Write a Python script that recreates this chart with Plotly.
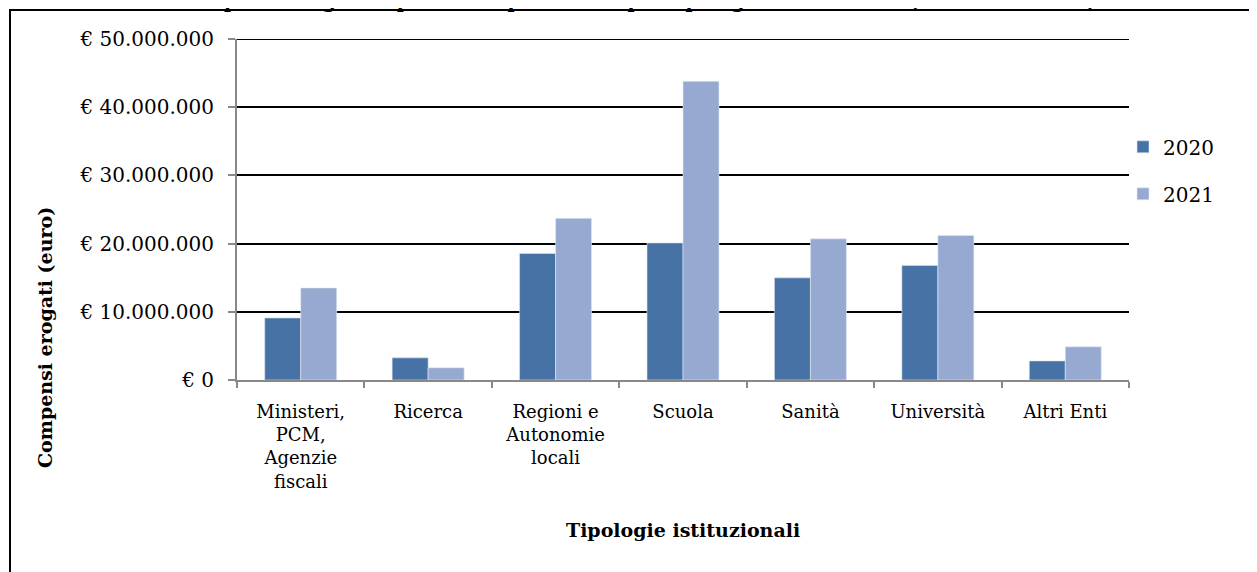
import plotly.graph_objects as go

categorie = ["Ministeri,<br>PCM,<br>Agenzie<br>fiscali", "Ricerca", "Regioni e<br>Autonomie<br>locali",
             "Scuola", "Sanità", "Università", "Altri Enti"]
valori_2020 = [9100000, 3250000, 18550000, 20100000, 14980000, 16800000, 2800000]
valori_2021 = [13500000, 1800000, 23700000, 43800000, 20700000, 21200000, 4870000]
y_ticks = [0, 10000000, 20000000, 30000000, 40000000, 50000000]

FONT = "DejaVu Serif"
# area del grafico nella pagina (pixel): sinistra 237, destra 1129, alto 39, basso 380
PW, PH = 892, 341


def euro(v):
    return "€ " + f"{v:,}".replace(",", ".")


def px(x):
    return (x - 237) / PW


def py(y):
    return (380 - y) / PH


fig = go.Figure()

# barre 2020 / 2021
fig.add_trace(go.Bar(x=categorie, y=valori_2020, name="2020", legendgroup="a",
                     marker=dict(color="#4672A6", line=dict(color="#DCE3EF", width=0.6))))
fig.add_trace(go.Bar(x=categorie, y=valori_2021, name="2021", legendgroup="b",
                     marker=dict(color="#96AAD1", line=dict(color="#E4EAF4", width=0.6))))

# la pagina ha un margine di 8px attorno al grafico
fig.update_layout(
    width=1257, height=572,
    margin=dict(l=229, r=136, t=31, b=200),
    paper_bgcolor="white", plot_bgcolor="white",
    font=dict(family=FONT, size=19, color="black"),
    barmode="group", bargap=0.435, bargroupgap=0,
    showlegend=True,
    legend=dict(x=px(1123), xanchor="left", y=0.741, yanchor="top",
                font=dict(size=20), tracegroupgap=18, traceorder="grouped",
                bgcolor="rgba(0,0,0,0)"),
)

fig.update_yaxes(
    range=[0, y_ticks[-1]], tickvals=y_ticks, ticktext=[euro(v) for v in y_ticks],
    showgrid=True, gridcolor="black", gridwidth=2,
    showline=True, linecolor="#888888", linewidth=2,
    ticks="outside", ticklen=7, tickcolor="#888888", tickwidth=2,
    zeroline=False, tickfont=dict(size=20), ticklabelstandoff=10,
)
fig.update_xaxes(
    showline=True, linecolor="#888888", linewidth=2,
    ticks="outside", ticklen=6, tickcolor="#888888", tickwidth=2,
    tickson="boundaries", tickfont=dict(size=18), ticklabelstandoff=14,
)

# griglia superiore (plotly non la disegna sul bordo)
fig.add_shape(type="line", xref="paper", yref="y", x0=0, x1=1,
              y0=y_ticks[-1], y1=y_ticks[-1], line=dict(color="black", width=2), layer="below")

# titoli assi
fig.add_annotation(text="<b>Compensi erogati (euro)</b>", textangle=-90,
                   xref="paper", yref="paper", x=px(45), y=py(338),
                   xanchor="center", yanchor="middle",
                   showarrow=False, font=dict(size=19))
fig.add_annotation(text="<b>Tipologie istituzionali</b>",
                   xref="paper", yref="paper", x=0.5, y=py(530),
                   xanchor="center", yanchor="middle",
                   showarrow=False, font=dict(size=19))

# titolo tagliato in alto
fig.add_annotation(text="<b>Compensi erogati al personale per anno e per tipologia istituzionale (anni 2020-2021)</b>",
                   xref="paper", yref="paper", x=px(635), y=py(14),
                   xanchor="center", yanchor="bottom", showarrow=False, font=dict(size=19))

# cornice del grafico
fig.add_shape(type="rect", xref="paper", yref="paper",
              x0=px(10), x1=1.2, y0=-0.7, y1=py(10),
              line=dict(color="black", width=2), fillcolor="rgba(0,0,0,0)", layer="below")

fig.write_html("out.html")
